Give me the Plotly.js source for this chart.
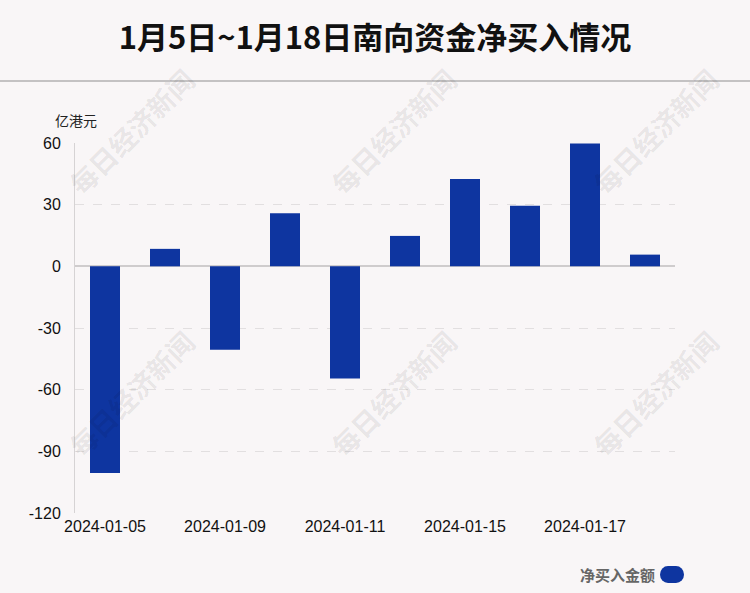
<!DOCTYPE html>
<html>
<head>
<meta charset="utf-8">
<script src="https://cdn.plot.ly/plotly-3.0.1.min.js"></script>
<style>
html,body{margin:0;padding:0;background:#f9f6f7;}
#chart{width:750px;height:593px;}
</style>
</head>
<body>
<div id="chart"></div>
<script>
// Data
const dates = ["2024-01-05","2024-01-08","2024-01-09","2024-01-10","2024-01-11","2024-01-12","2024-01-15","2024-01-16","2024-01-17","2024-01-18"];
const netBuy = [-100.6, 8.5, -40.6, 25.8, -54.6, 14.8, 42.5, 29.5, 59.8, 5.7];
const tickLabels = ["2024-01-05","2024-01-09","2024-01-11","2024-01-15","2024-01-17"];
const yTicks = [-120, -90, -60, -30, 0, 30, 60];
const yTickText = ["-120", "-90", "-60", "-30", "0", "30", "60"];
const seriesName = "净买入金额";
const titleText = "1月5日~1月18日南向资金净买入情况";
const unitText = "亿港元";
const watermark = "每日经济新闻";

const barColor = "#0e35a0";
const bg = "#f9f6f7";

const trace = {
  type: "bar",
  x: dates,
  y: netBuy,
  name: seriesName,
  marker: {color: barColor},
  showlegend: false,
  hoverinfo: "x+y"
};

// Watermarks
const wmAnn = [];
[[131,131],[393,131],[655,131],[131,393],[393,393],[655,393]].forEach(p => {
  wmAnn.push({
    xref: "paper", yref: "paper",
    x: (p[0] - 75) / 600, y: (513 - p[1]) / 370,
    text: "<b>" + watermark + "</b>", showarrow: false, textangle: -45,
    font: {family: "Noto Sans CJK SC", size: 27, color: "rgba(0,0,0,0.085)"},
    xanchor: "center", yanchor: "middle"
  });
});

// rounded legend pill path (pixel-ish in paper coords)
function px(x) { return (x - 75) / 600; }
function py(y) { return (513 - y) / 370; }

const layout = {
  width: 750, height: 593,
  paper_bgcolor: bg, plot_bgcolor: bg,
  margin: {l: 75, r: 75, t: 143, b: 80},
  title: {
    text: "<b>" + titleText + "</b>",
    x: 0.5, xanchor: "center", xref: "paper",
    y: 1 - 38 / 593, yanchor: "middle", yref: "container",
    font: {family: "Noto Sans CJK SC", size: 31, color: "#111"}
  },
  bargap: 0.5,
  xaxis: {
    type: "category",
    range: [-0.5, 9.5],
    tickvals: tickLabels,
    ticktext: tickLabels,
    ticks: "",
    showgrid: false,
    zeroline: false,
    showline: false,
    tickfont: {family: "Liberation Sans, Arial", size: 16, color: "#111"},
    ticklabelstandoff: 2,
    fixedrange: true
  },
  yaxis: {
    range: [-120, 60],
    tickvals: yTicks,
    ticktext: yTickText,
    ticks: "",
    showgrid: true,
    gridcolor: "#e2dfe0",
    griddash: "dash",
    gridwidth: 1,
    zeroline: true,
    zerolinecolor: "#cfcccd",
    zerolinewidth: 2,
    showline: true,
    linecolor: "#d6d3d4",
    linewidth: 1,
    tickfont: {family: "Liberation Sans, Arial", size: 16, color: "#111"},
    ticklabelstandoff: 10,
    fixedrange: true
  },
  shapes: [
    {type: "line", xref: "paper", yref: "paper",
     x0: -75/600, x1: 675/600, y0: 1 + (143-81)/370, y1: 1 + (143-81)/370,
     line: {color: "#c4c2c3", width: 2}},
    {type: "circle", xref: "paper", yref: "paper",
     x0: px(660), x1: px(676), y0: py(583), y1: py(566),
     fillcolor: barColor, line: {width: 0}},
    {type: "circle", xref: "paper", yref: "paper",
     x0: px(668), x1: px(684), y0: py(583), y1: py(566),
     fillcolor: barColor, line: {width: 0}},
    {type: "rect", xref: "paper", yref: "paper",
     x0: px(668), x1: px(676), y0: py(583), y1: py(566),
     fillcolor: barColor, line: {width: 0}}
  ],
  annotations: wmAnn.concat([
    {xref: "paper", yref: "paper", x: px(53), y: py(120),
     text: unitText, showarrow: false, xanchor: "left", yanchor: "middle",
     font: {family: "Noto Sans CJK SC", size: 14, color: "#222"}},
    {xref: "paper", yref: "paper", x: px(657), y: py(574),
     text: "<b>" + seriesName + "</b>", showarrow: false, xanchor: "right", yanchor: "middle",
     font: {family: "Noto Sans CJK SC", size: 15, color: "#666"}}
  ])
};

Plotly.newPlot("chart", [trace], layout, {displayModeBar: false, staticPlot: true});
</script>
</body>
</html>
